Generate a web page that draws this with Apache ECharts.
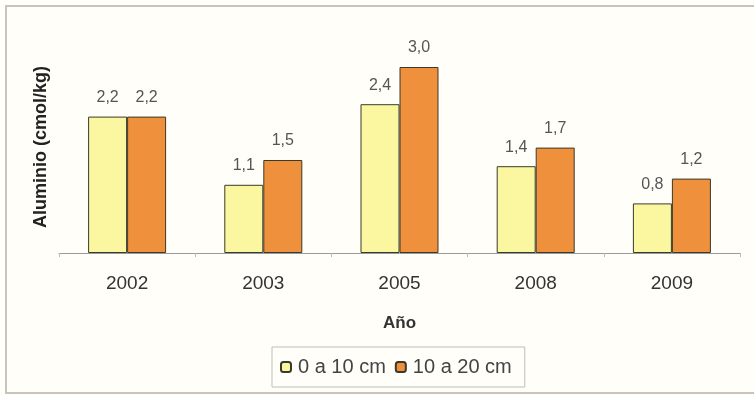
<!DOCTYPE html>
<html><head><meta charset="utf-8">
<script src="https://cdn.jsdelivr.net/npm/echarts@6/dist/echarts.min.js"></script>
<style>html,body{margin:0;padding:0;background:#fff;}#c{width:754px;height:396px;}</style>
</head><body><div id="c"></div>
<script>
const categories = ['2002','2003','2005','2008','2009'];
const seriesNames = ['0 a 10 cm','10 a 20 cm'];
const values0to10 = [2.2, 1.1, 2.4, 1.4, 0.8];
const values10to20 = [2.2, 1.5, 3.0, 1.7, 1.2];
const yTitle = 'Aluminio (cmol/kg)';
const xTitle = 'Año';

const FF = 'Liberation Sans, Arial, sans-serif';
const chart = echarts.init(document.getElementById('c'));
const lbl = {show:true, position:'top', distance:11, color:'#555', fontSize:16, fontFamily:FF,
  formatter: p => p.value.toFixed(1).replace('.', ',')};
chart.setOption({
  backgroundColor:'#fffef8',
  animation:false,
  graphic:[
    {type:'rect', shape:{x:6, y:6, width:760, height:387}, style:{fill:'none', stroke:'#c8c4bc', lineWidth:2}, silent:true, z:-1},
    {type:'text', x:41, y:147, rotation:Math.PI/2, style:{text:yTitle, fontSize:18, fontWeight:'bold', fill:'#222', fontFamily:FF, textAlign:'center', textVerticalAlign:'middle'}}
  ],
  grid:{left:59, right:14, top:67, bottom:143, containLabel:false},
  legend:{
    left:272, top:347,
    padding:[10,13,10,8],
    borderColor:'#bdbdbd', borderWidth:1,
    itemWidth:10, itemHeight:10, itemGap:9,
    textStyle:{fontSize:20, color:'#444', fontFamily:FF, padding:[0,0,0,2]},
    data:seriesNames
  },
  xAxis:{
    type:'category', data:categories,
    axisLine:{show:true, lineStyle:{color:'#9a9a9a'}},
    axisTick:{show:true, length:4, lineStyle:{color:'#bbb'}},
    axisLabel:{fontSize:19, color:'#333', margin:21, fontFamily:FF},
    name:xTitle, nameLocation:'middle', nameGap:62,
    nameTextStyle:{fontSize:17, fontWeight:'bold', color:'#333', fontFamily:FF}
  },
  yAxis:{
    type:'value', min:0, max:3, interval:1,
    axisLine:{show:false}, axisTick:{show:false}, axisLabel:{show:false}, splitLine:{show:false}
  },
  series:[
    {name:seriesNames[0], type:'bar', data:values0to10, barWidth:39, barGap:'0%',
     itemStyle:{color:'#fbf7a0', borderColor:'#3a3a2a', borderWidth:1}, label:lbl},
    {name:seriesNames[1], type:'bar', data:values10to20, barWidth:39,
     itemStyle:{color:'#ee903c', borderColor:'#3a3a2a', borderWidth:1}, label:lbl}
  ]
});
</script></body></html>
